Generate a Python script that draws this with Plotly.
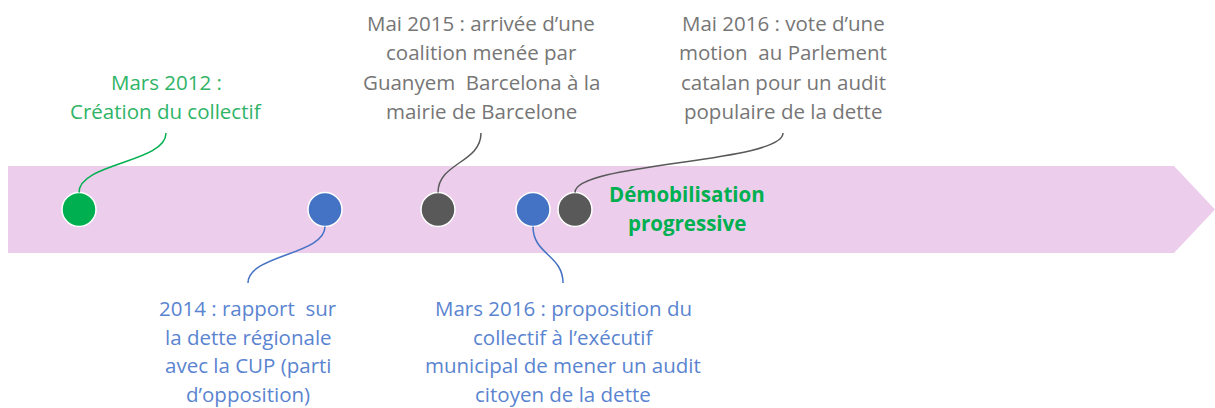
import plotly.graph_objects as go

# ---- data ----
event_labels = [
    ["Mars 2012 :", "Création du collectif"],
    ["2014 : rapport  sur", "la dette régionale", "avec la CUP (parti", "d’opposition)"],
    ["Mai 2015 : arrivée d’une", "coalition menée par", "Guanyem  Barcelona à la", "mairie de Barcelone"],
    ["Mars 2016 : proposition du", "collectif à l’exécutif", "municipal de mener un audit", "citoyen de la dette"],
    ["Mai 2016 : vote d’une", "motion  au Parlement", "catalan pour un audit", "populaire de la dette"],
]
event_x = [79, 325, 438, 533, 575]
label_x = [166, 248, 481, 563, 783]
label_side = ["above", "below", "above", "below", "above"]
dot_colors = ["#00B050", "#4472C4", "#595959", "#4472C4", "#595959"]
text_colors = ["#2FB467", "#5A84D0", "#767676", "#5A84D0", "#767676"]
final_label = ["Démobilisation", "progressive"]
final_x = 687

W, H = 1215, 408
band_top, band_bot, band_left, head_start, tip = 166, 253, 8, 1174, 1215
axis_y = (band_top + band_bot) / 2
font = "'Open Sans', Lato, sans-serif"

fig = go.Figure()

# band arrow
fig.add_shape(type="path",
              path=f"M {band_left} {band_top} L {head_start} {band_top} L {tip} {axis_y} "
                   f"L {head_start} {band_bot} L {band_left} {band_bot} Z",
              fillcolor="#ECCDEC", line=dict(width=0), layer="below")

annotations = []
for i, lines in enumerate(event_labels):
    ex, lx = event_x[i], label_x[i]
    if label_side[i] == "above":
        y0, y1 = axis_y - 17, 133
        n = len(lines)
        ys = [111 - (n - 1 - k) * 29.5 for k in range(n)]
    else:
        y0, y1 = axis_y + 17, 283
        ys = [308 + k * 28.5 for k in range(len(lines))]
    ym = (y0 + y1) / 2
    fig.add_shape(type="path",
                  path=f"M {ex} {y0} C {ex} {ym}, {lx} {ym}, {lx} {y1}",
                  line=dict(color=dot_colors[i], width=1.5))
    for k, t in enumerate(lines):
        annotations.append(dict(x=lx, y=ys[k], text=t, showarrow=False,
                                xanchor="center", yanchor="middle",
                                font=dict(family=font, size=20.5, color=text_colors[i])))

for k, t in enumerate(final_label):
    annotations.append(dict(x=final_x, y=194 + k * 29, text=f"<b>{t}</b>", showarrow=False,
                            xanchor="center", yanchor="middle",
                            font=dict(family=font, size=20.5, color="#00B050")))

fig.add_trace(go.Scatter(x=event_x, y=[axis_y] * len(event_x), mode="markers",
                         marker=dict(size=34, color=dot_colors,
                                     line=dict(color="white", width=1.5)),
                         hoverinfo="skip", showlegend=False))

fig.update_layout(width=W, height=H, margin=dict(l=0, r=0, t=0, b=0),
                  paper_bgcolor="white", plot_bgcolor="white",
                  xaxis=dict(range=[0, W], visible=False, fixedrange=True),
                  yaxis=dict(range=[H, 0], visible=False, fixedrange=True),
                  annotations=annotations, showlegend=False)

fig.write_html("out.html", config={"displayModeBar": False},
               post_script="document.body.style.margin='0';document.body.style.overflow='hidden';")
